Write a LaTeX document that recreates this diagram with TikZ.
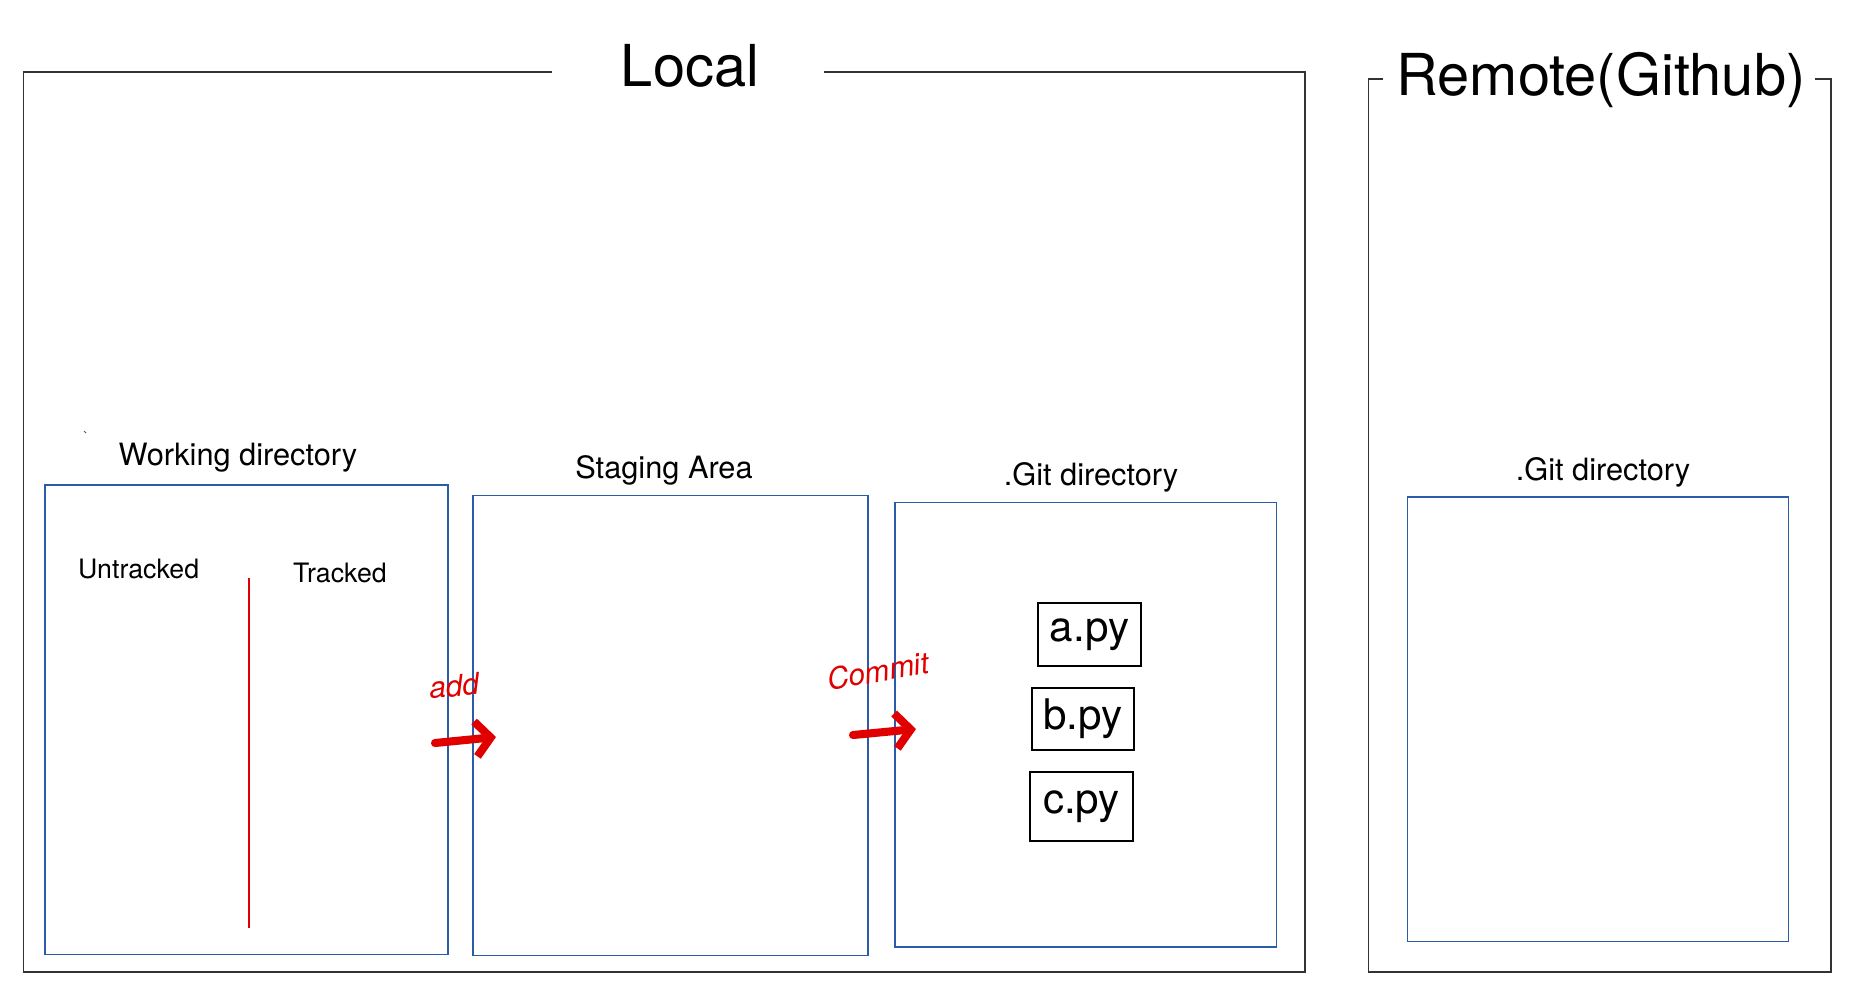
\documentclass[tikz,border=0pt]{standalone}
\usepackage{fontspec}
\setmainfont{TeX Gyre Heros}
\usetikzlibrary{arrows.meta,positioning}
\definecolor{framegrey}{HTML}{333333}
\definecolor{areablue}{HTML}{2A5CAA}
\definecolor{inkred}{HTML}{E00000}
\tikzset{
  outerframe/.style={draw=framegrey, line width=0.8pt},
  areabox/.style={
    rectangle, draw=areablue, line width=0.7pt, inner sep=0pt
  },
  bigtitle/.style={font=\fontsize{32.9}{36}\selectfont, anchor=base},
  arealabel/.style={font=\fontsize{17.5}{20}\selectfont, anchor=base},
  sublabel/.style={font=\fontsize{15.2}{18}\selectfont, anchor=base},
  filebox/.style={
    rectangle, draw=black, line width=1.1pt, inner sep=0pt,
    minimum width=2.05cm, minimum height=1.25cm,
    font=\fontsize{24}{26}\selectfont
  },
  inkarrow/.style={
    -{Straight Barb[length=0.3cm, width=0.7cm]}, line width=4.6pt,
    color=inkred, line cap=round, line join=round
  },
  inknote/.style={font=\itshape\fontsize{17}{18}\selectfont, color=inkred},
  splitline/.style={draw=inkred, line width=0.7pt},
}

\begin{document}
\begin{tikzpicture}[x=0.02cm, y=-0.02cm]
  \useasboundingbox (0,0) rectangle (1850,1000);

  % local machine frame, open at the top for its title
  \node[bigtitle] (local) at (690,87) {Local};
  \draw[outerframe] (552,72) -- (23.6,72) -- (23.6,972) -- (1305,972)
    -- (1305,72) -- (824,72);

  % remote frame
  \node[bigtitle] (remote) at (1601,95.6) {Remote(Github)};
  \draw[outerframe] (1383,79) -- (1368.5,79) -- (1368.5,972) -- (1831,972)
    -- (1831,79) -- (1815,79);

  % the three local areas
  \node[areabox, minimum width=8.06cm, minimum height=9.39cm] (wd) at (246.5,719.75) {};
  \node[areabox, minimum width=7.9cm, minimum height=9.2cm] (stage) at (670.5,725.5) {};
  \node[areabox, minimum width=7.63cm, minimum height=8.89cm] (gitdir) at (1085.75,724.8) {};
  \node[areabox, minimum width=7.62cm, minimum height=8.89cm] (remotegit) at (1598,719.25) {};

  \node[arealabel] (wdlabel) at (238,465) {Working directory};
  \node[arealabel] (stagelabel) at (664,478) {Staging Area};
  \node[arealabel] (gitlabel) at (1091,485) {.Git directory};
  \node[arealabel] (remotegitlabel) at (1603,480) {.Git directory};

  \draw[areablue, line width=0.6pt] (84,431) -- (86,433);

  % working directory split
  \node[sublabel] (untracked) at (138.6,578) {Untracked};
  \node[sublabel] (tracked) at (340,582) {Tracked};
  \coordinate (splittop) at (249,578);
  \coordinate (splitbot) at (249,928);
  \draw[splitline] (splittop) -- (splitbot);

  % committed files
  \node[filebox] (apy) at (1089.5,634.5) {a.py};
  \node[filebox] (bpy) at (1083,719) {b.py};
  \node[filebox, minimum height=1.38cm] (cpy) at (1081.5,806.5) {c.py};

  % add / commit
  \coordinate (addfrom) at (435,743);
  \coordinate (addto) at (496,737);
  \coordinate (commitfrom) at (853,735);
  \coordinate (committo) at (916,729);
  \draw[inkarrow] (addfrom) -- (addto);
  \draw[inkarrow] (commitfrom) -- (committo);
  \node[inknote, rotate=5] (addnote) at (454,686) {add};
  \node[inknote, rotate=10] (commitnote) at (878,671) {Commit};
\end{tikzpicture}
\end{document}
